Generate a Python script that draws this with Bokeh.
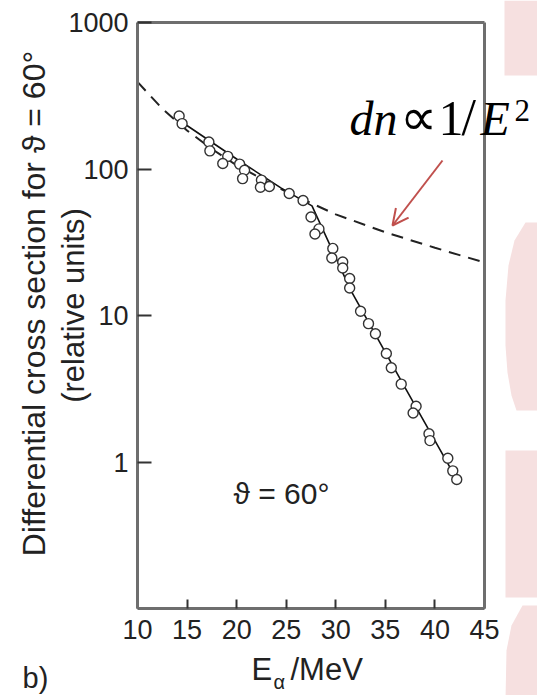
import math
from bokeh.plotting import figure
from bokeh.models import (FixedTicker, PrintfTickFormatter, Label, Arrow, OpenHead,
                          LinearAxis, LogAxis, PolyAnnotation, Range1d)
from bokeh.embed import file_html
from bokeh.resources import INLINE

# ---- data ----
energy = [14.2, 14.5, 17.2, 17.3, 19.1, 18.6, 20.3, 20.8, 20.6, 22.5, 22.4, 23.3,
          25.3, 26.7, 27.5, 28.3, 27.9, 29.7, 29.6, 30.7, 30.7, 31.4, 31.4, 32.5,
          33.3, 34.0, 35.1, 35.6, 36.6, 38.1, 37.8, 39.4, 39.5, 41.3, 41.8, 42.2]
cross = [230, 204, 153, 133, 122, 109, 108, 98, 86, 84, 75, 76,
         68, 61, 47, 39, 36, 28.7, 24.7, 23.2, 21.1, 17.9, 15.4, 10.7,
         8.8, 7.5, 5.5, 4.4, 3.4, 2.4, 2.16, 1.56, 1.40, 1.06, 0.87, 0.76]
fit_e = [13.9, 20.0, 24.5, 27.6, 31.5, 36.9, 42.3]
fit_s = [222, 117, 74, 56, 14.9, 3.3, 0.74]
inv_e = [10, 12.5, 15, 17.5, 20, 25, 30, 35, 40, 45]
inv_s = [393, 258, 183, 137, 106, 70, 49, 37, 29, 23]
x_ticks = [10, 15, 20, 25, 30, 35, 40, 45]
y_ticks = [1, 10, 100, 1000]
x_lim = (10, 45)
y_lim = (0.1, 1000)

TXT = "#222222"
AX = "#6e6e6e"
RED = "#c0504d"
PINK = "#f6e0e0"
SANS = "Liberation Sans"
SERIF = "Liberation Serif"

W, H = 537, 695
BOX_L, BOX_R, BOX_T, BOX_B = 137, 484, 22, 608   # page pixels of the axes box

def px2x(px):
    return x_lim[0] + (px - BOX_L) * (x_lim[1] - x_lim[0]) / (BOX_R - BOX_L)

def py2y(py):
    dec = math.log10(y_lim[1] / y_lim[0])
    return 10 ** (math.log10(y_lim[1]) - (py - BOX_T) * dec / (BOX_B - BOX_T))

def base(py, size):
    # place the alphabetic baseline of a text of the given size at page row py
    return py2y(py - 0.35 * size)

p = figure(width=W, height=H, x_range=Range1d(px2x(0), px2x(W)),
           y_range=Range1d(py2y(H), py2y(0)), y_axis_type="log",
           output_backend="svg", toolbar_location=None,
           min_border_left=0, min_border_right=0, min_border_top=0, min_border_bottom=0)
p.outline_line_color = None
p.xgrid.visible = False
p.ygrid.visible = False
p.background_fill_color = "white"
p.border_fill_color = "white"

# background decoration (slide shapes on the right)
shapes = [
    [(504, 0), (560, 0), (560, 75), (504, 75)],
    [(525, 222), (514, 240), (508, 265), (505, 300), (505, 345), (507, 372), (511, 395),
     (516, 410), (560, 410), (560, 222)],
    [(505, 450), (560, 450), (560, 597), (505, 597)],
    [(522, 605), (511, 625), (506, 650), (505, 700), (560, 700), (560, 605)],
]
for sh in shapes:
    p.add_layout(PolyAnnotation(xs=[px2x(a) for a, b in sh], ys=[py2y(b) for a, b in sh],
                                fill_color=PINK, fill_alpha=1, line_color=None, level="underlay"))

# axes (library axes pinned to the box edges)
xa = p.xaxis[0]
xa.ticker = FixedTicker(ticks=x_ticks)
xa.fixed_location = y_lim[0]
xa.bounds = x_lim
ya = p.yaxis[0]
ya.ticker = FixedTicker(ticks=y_ticks)
ya.formatter = PrintfTickFormatter(format="%d")
ya.fixed_location = x_lim[0]
ya.bounds = y_lim
for ax, tin, so in ((xa, 9, 11), (ya, 14, 9)):
    ax.axis_line_color = AX
    ax.axis_line_width = 3
    ax.major_tick_in = tin
    ax.major_tick_out = 0
    ax.major_tick_line_color = "#333333"
    ax.major_tick_line_width = 2
    ax.minor_tick_line_color = None
    ax.major_label_text_font = SANS
    ax.major_label_text_font_size = "27px"
    ax.major_label_text_color = TXT
    ax.major_label_standoff = so

for side in ("right", "above"):
    if side == "right":
        ax = LogAxis(fixed_location=x_lim[1], bounds=y_lim)
    else:
        ax = LinearAxis(fixed_location=y_lim[1], bounds=x_lim)
    ax.ticker = FixedTicker(ticks=[])
    ax.major_label_text_font_size = "0px"
    ax.major_tick_line_color = None
    ax.minor_tick_line_color = None
    ax.axis_line_color = AX
    ax.axis_line_width = 3
    p.add_layout(ax, side)

# data
p.line(inv_e, inv_s, line_dash="12 8", line_width=2, line_color="#222222")
p.line(fit_e, fit_s, line_width=1.6, line_color="#111111")
p.scatter(energy, cross, size=10, marker="circle", fill_color="white",
          line_color="#333333", line_width=1.4)

# annotation texts
p.add_layout(Label(x=px2x(233), y=base(503, 30), text="ϑ = 60°", text_font=SANS,
                   text_font_size="30px", text_color=TXT, text_baseline="alphabetic"))

# formula with white box
p.add_layout(Label(x=px2x(350), y=base(135, 48), text="dn∝1/E2", text_font=SERIF,
                   text_font_size="48px", text_alpha=0, background_fill_color="white",
                   background_fill_alpha=1, padding=14, text_baseline="alphabetic"))
formula = [("dn", 349, 135, 48, "italic"), ("∝", 399, 135, 52, "normal"),
           ("1", 438, 135, 50, "normal"), ("/", 461, 135, 52, "normal"),
           ("E", 480, 135, 48, "italic"), ("2", 514, 121, 31, "normal")]
for t, lx, by, fs, st in formula:
    p.add_layout(Label(x=px2x(lx), y=base(by, fs), text=t, text_font=SERIF,
                       text_font_style=st, text_font_size=f"{fs}px", text_color="black",
                       text_baseline="alphabetic"))

p.add_layout(Arrow(end=OpenHead(size=16, line_color=RED, line_width=2),
                   x_start=px2x(442), y_start=py2y(160), x_end=px2x(392), y_end=py2y(225),
                   line_color=RED, line_width=2))

# y axis title (two lines)
p.add_layout(Label(x=px2x(33), y=py2y(303), text="Differential cross section for ϑ = 60°",
                   angle=math.pi / 2, text_align="center", text_baseline="middle",
                   text_font=SANS, text_font_size="32px", text_color=TXT))
p.add_layout(Label(x=px2x(73), y=py2y(305), text="(relative units)",
                   angle=math.pi / 2, text_align="center", text_baseline="middle",
                   text_font=SANS, text_font_size="31px", text_color=TXT))

# x axis title
p.add_layout(Label(x=px2x(251), y=base(680, 31), text="E", text_font=SANS,
                   text_font_size="31px", text_color=TXT, text_baseline="alphabetic"))
p.add_layout(Label(x=px2x(273), y=base(688, 20), text="α", text_font=SANS,
                   text_font_size="20px", text_color=TXT, text_baseline="alphabetic"))
p.add_layout(Label(x=px2x(290), y=base(680, 31), text="/MeV", text_font=SANS,
                   text_font_size="31px", text_color=TXT, text_baseline="alphabetic"))

p.add_layout(Label(x=px2x(22), y=base(688, 29), text="b)", text_font=SANS,
                   text_font_size="29px", text_color=TXT, text_baseline="alphabetic"))

open("out.html", "w").write(file_html(p, INLINE))
